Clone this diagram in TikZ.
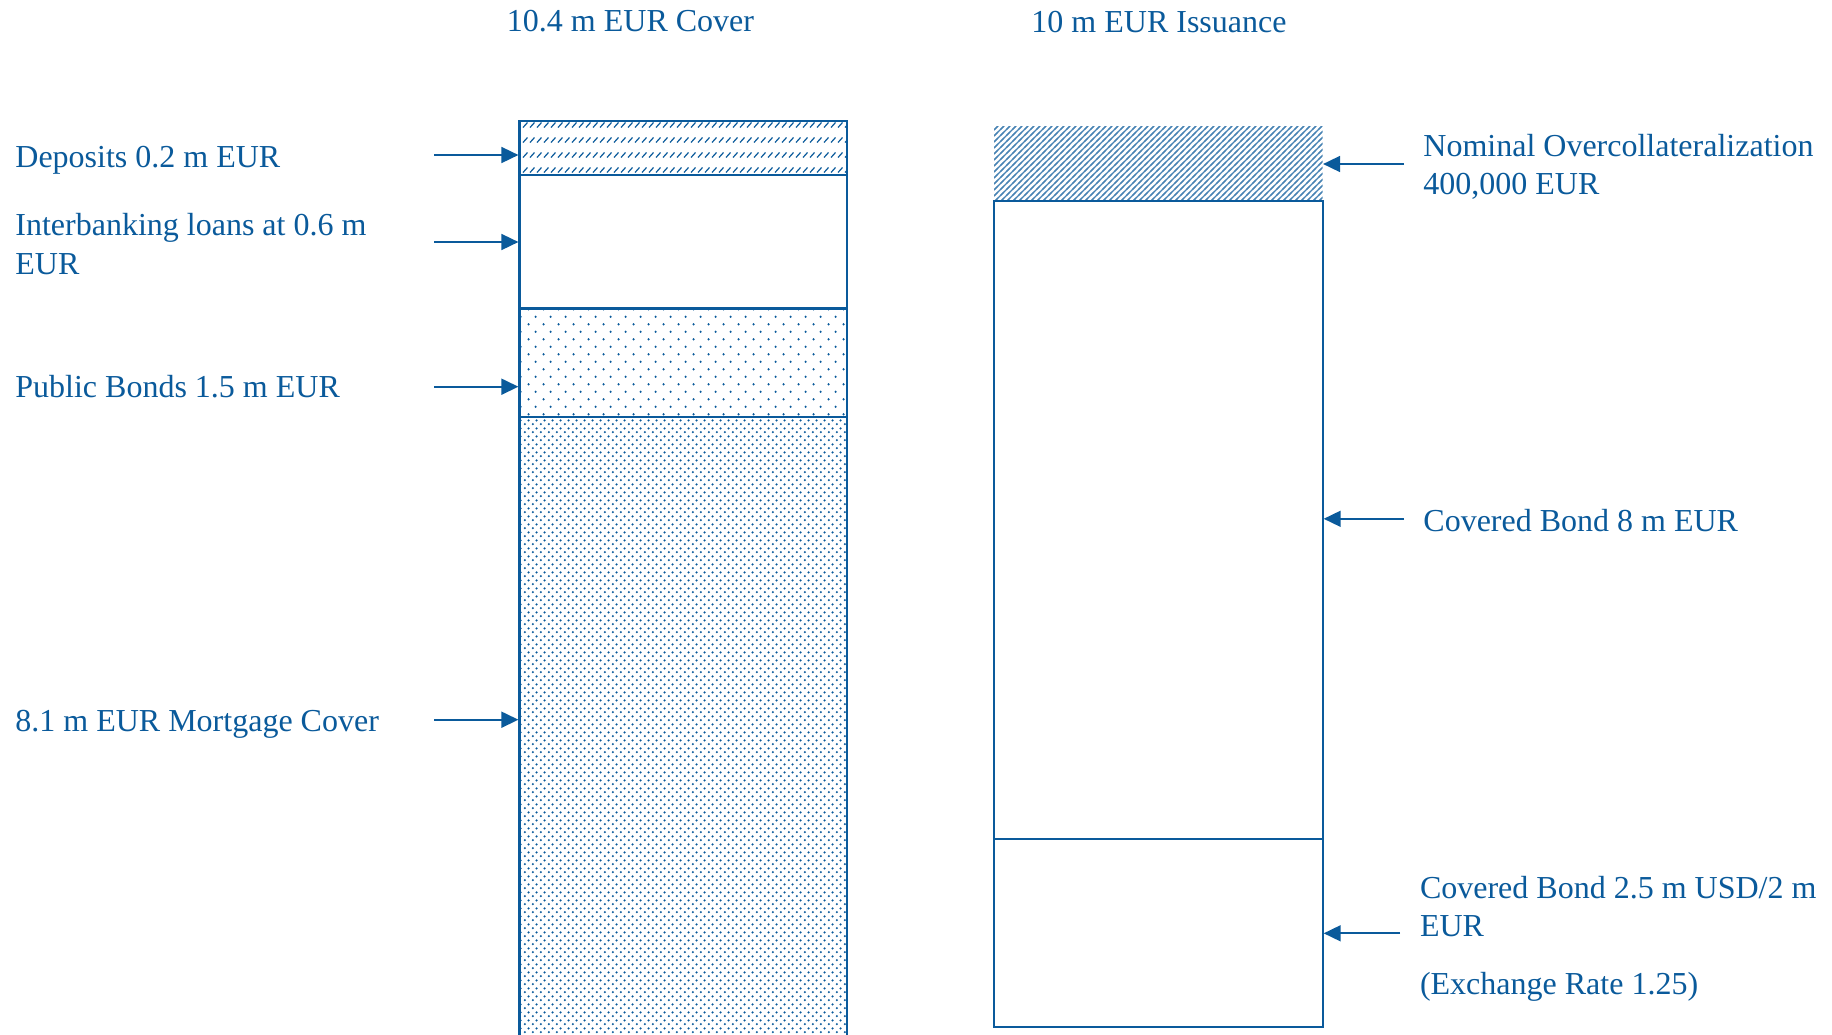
\documentclass[tikz,border=0pt]{standalone}
\usepackage{fontspec}
\setmainfont{Liberation Serif}
\usetikzlibrary{arrows.meta,patterns,fit}
\definecolor{cb}{RGB}{10,90,155}

\pgfdeclarepatternformonly{densedots}{\pgfpointorigin}{\pgfpoint{3.85pt}{3.85pt}}{\pgfpoint{3.85pt}{3.85pt}}{%
  \pgfpathcircle{\pgfpoint{0.96pt}{0.96pt}}{0.62pt}%
  \pgfpathcircle{\pgfpoint{2.89pt}{2.89pt}}{0.62pt}%
  \pgfusepath{fill}}
\pgfdeclarepatternformonly{sparsedots}{\pgfpointorigin}{\pgfpoint{7.5pt}{7.7pt}}{\pgfpoint{7.5pt}{7.7pt}}{%
  \pgfpathcircle{\pgfpoint{1.9pt}{1.9pt}}{0.65pt}%
  \pgfpathcircle{\pgfpoint{5.65pt}{5.75pt}}{0.65pt}%
  \pgfusepath{fill}}
\pgfdeclarepatternformonly{denselines}{\pgfpoint{-1pt}{-1pt}}{\pgfpoint{4pt}{4pt}}{\pgfpoint{3pt}{3pt}}{%
  \pgfsetlinewidth{0.55pt}%
  \pgfpathmoveto{\pgfpoint{-1pt}{-1pt}}\pgfpathlineto{\pgfpoint{4pt}{4pt}}%
  \pgfusepath{stroke}}

\newcommand\twolines[3][20pt]{\vtop{\baselineskip=#1\hbox{#2}\hbox{#3}}}

\tikzset{
  lbl/.style={text=cb, inner sep=0pt, anchor=base west, font=\fontsize{16}{20}\selectfont},
  ttl/.style={text=cb, inner sep=0pt, anchor=base, font=\fontsize{16}{20}\selectfont},
  seg/.style={draw=cb, line width=1.1pt, inner sep=0pt},
  arr/.style={draw=cb, line width=0.85pt, -{Triangle[length=8.5pt,width=8pt]}},
}

\begin{document}
\begin{tikzpicture}[x=0.5pt,y=-0.5pt]
\useasboundingbox (0,0) rectangle (1832,1034);
\clip (0,0) rectangle (1832,1034);
\fill[white] (0,0) rectangle (1832,1034);

% titles
\node[ttl] (t1) at (630.5,31) {10.4 m EUR Cover};
\node[ttl] (t2) at (1159,32.5) {10 m EUR Issuance};

% ---- left column (cover) ----
\node[seg, fit={(519.5,120.7)(847,174.7)}] (dep) {};
\begin{scope}
  \clip (519.5,120.7) rectangle (847,174.7);
  \foreach \r in {125,140,155,170}
    \foreach \x in {516,523,...,852}
      \draw[cb, line width=0.6pt] ({\x},{\r+2.5}) -- ({\x+4.5},{\r-2.5});
\end{scope}
\node[seg, fit={(519.5,174.7)(847,308.5)}] (ibl) {};
\node[seg, pattern=sparsedots, pattern color=cb, fit={(519.5,308.5)(847,417)}] (pub) {};
\node[seg, pattern=densedots, pattern color=cb, fit={(519.5,417)(847,1040)}] (mort) {};

% left labels
\node[lbl] (l1) at (15,167.5) {Deposits 0.2 m EUR};
\node[lbl] (l2) at (15,235) {\twolines[19.5pt]{Interbanking loans at 0.6 m}{EUR}};
\node[lbl] (l3) at (15,397.5) {Public Bonds 1.5 m EUR};
\node[lbl] (l4) at (15,731) {8.1 m EUR Mortgage Cover};

\coordinate (a1) at (434,155);
\coordinate (a2) at (434,242);
\coordinate (a3) at (434,386.7);
\coordinate (a4) at (434,719.7);
\draw[arr] (a1) -- (a1 -| dep.west);
\draw[arr] (a2) -- (a2 -| ibl.west);
\draw[arr] (a3) -- (a3 -| pub.west);
\draw[arr] (a4) -- (a4 -| mort.west);

% ---- right column (issuance) ----
\node[inner sep=0pt, pattern=denselines, pattern color=cb!75, fit={(994,126)(1322.7,200.7)}] (oc) {};
\node[seg, line width=1pt, fit={(994,200.7)(1322.7,839)}] (cb8) {};
\node[seg, line width=1pt, fit={(994,839)(1322.7,1026.7)}] (cb2) {};

% right labels
\node[lbl] (r1l) at (1423,156) {\twolines[19pt]{Nominal Overcollateralization}{400,000 EUR}};
\node[lbl] (r2l) at (1423,531) {Covered Bond 8 m EUR};
\node[lbl] (r3l) at (1419.6,898) {\vtop{\baselineskip=19pt\hbox{Covered Bond 2.5 m USD/2 m}\hbox{EUR}\vskip 10pt\hbox{(Exchange Rate 1.25)}}};

\coordinate (b1) at (1404,164);
\coordinate (b2) at (1404,518.8);
\coordinate (b3) at (1400,933.3);
\draw[arr] (b1) -- (b1 -| oc.east);
\draw[arr] (b2) -- (b2 -| cb8.east);
\draw[arr] (b3) -- (b3 -| cb2.east);
\end{tikzpicture}
\end{document}
